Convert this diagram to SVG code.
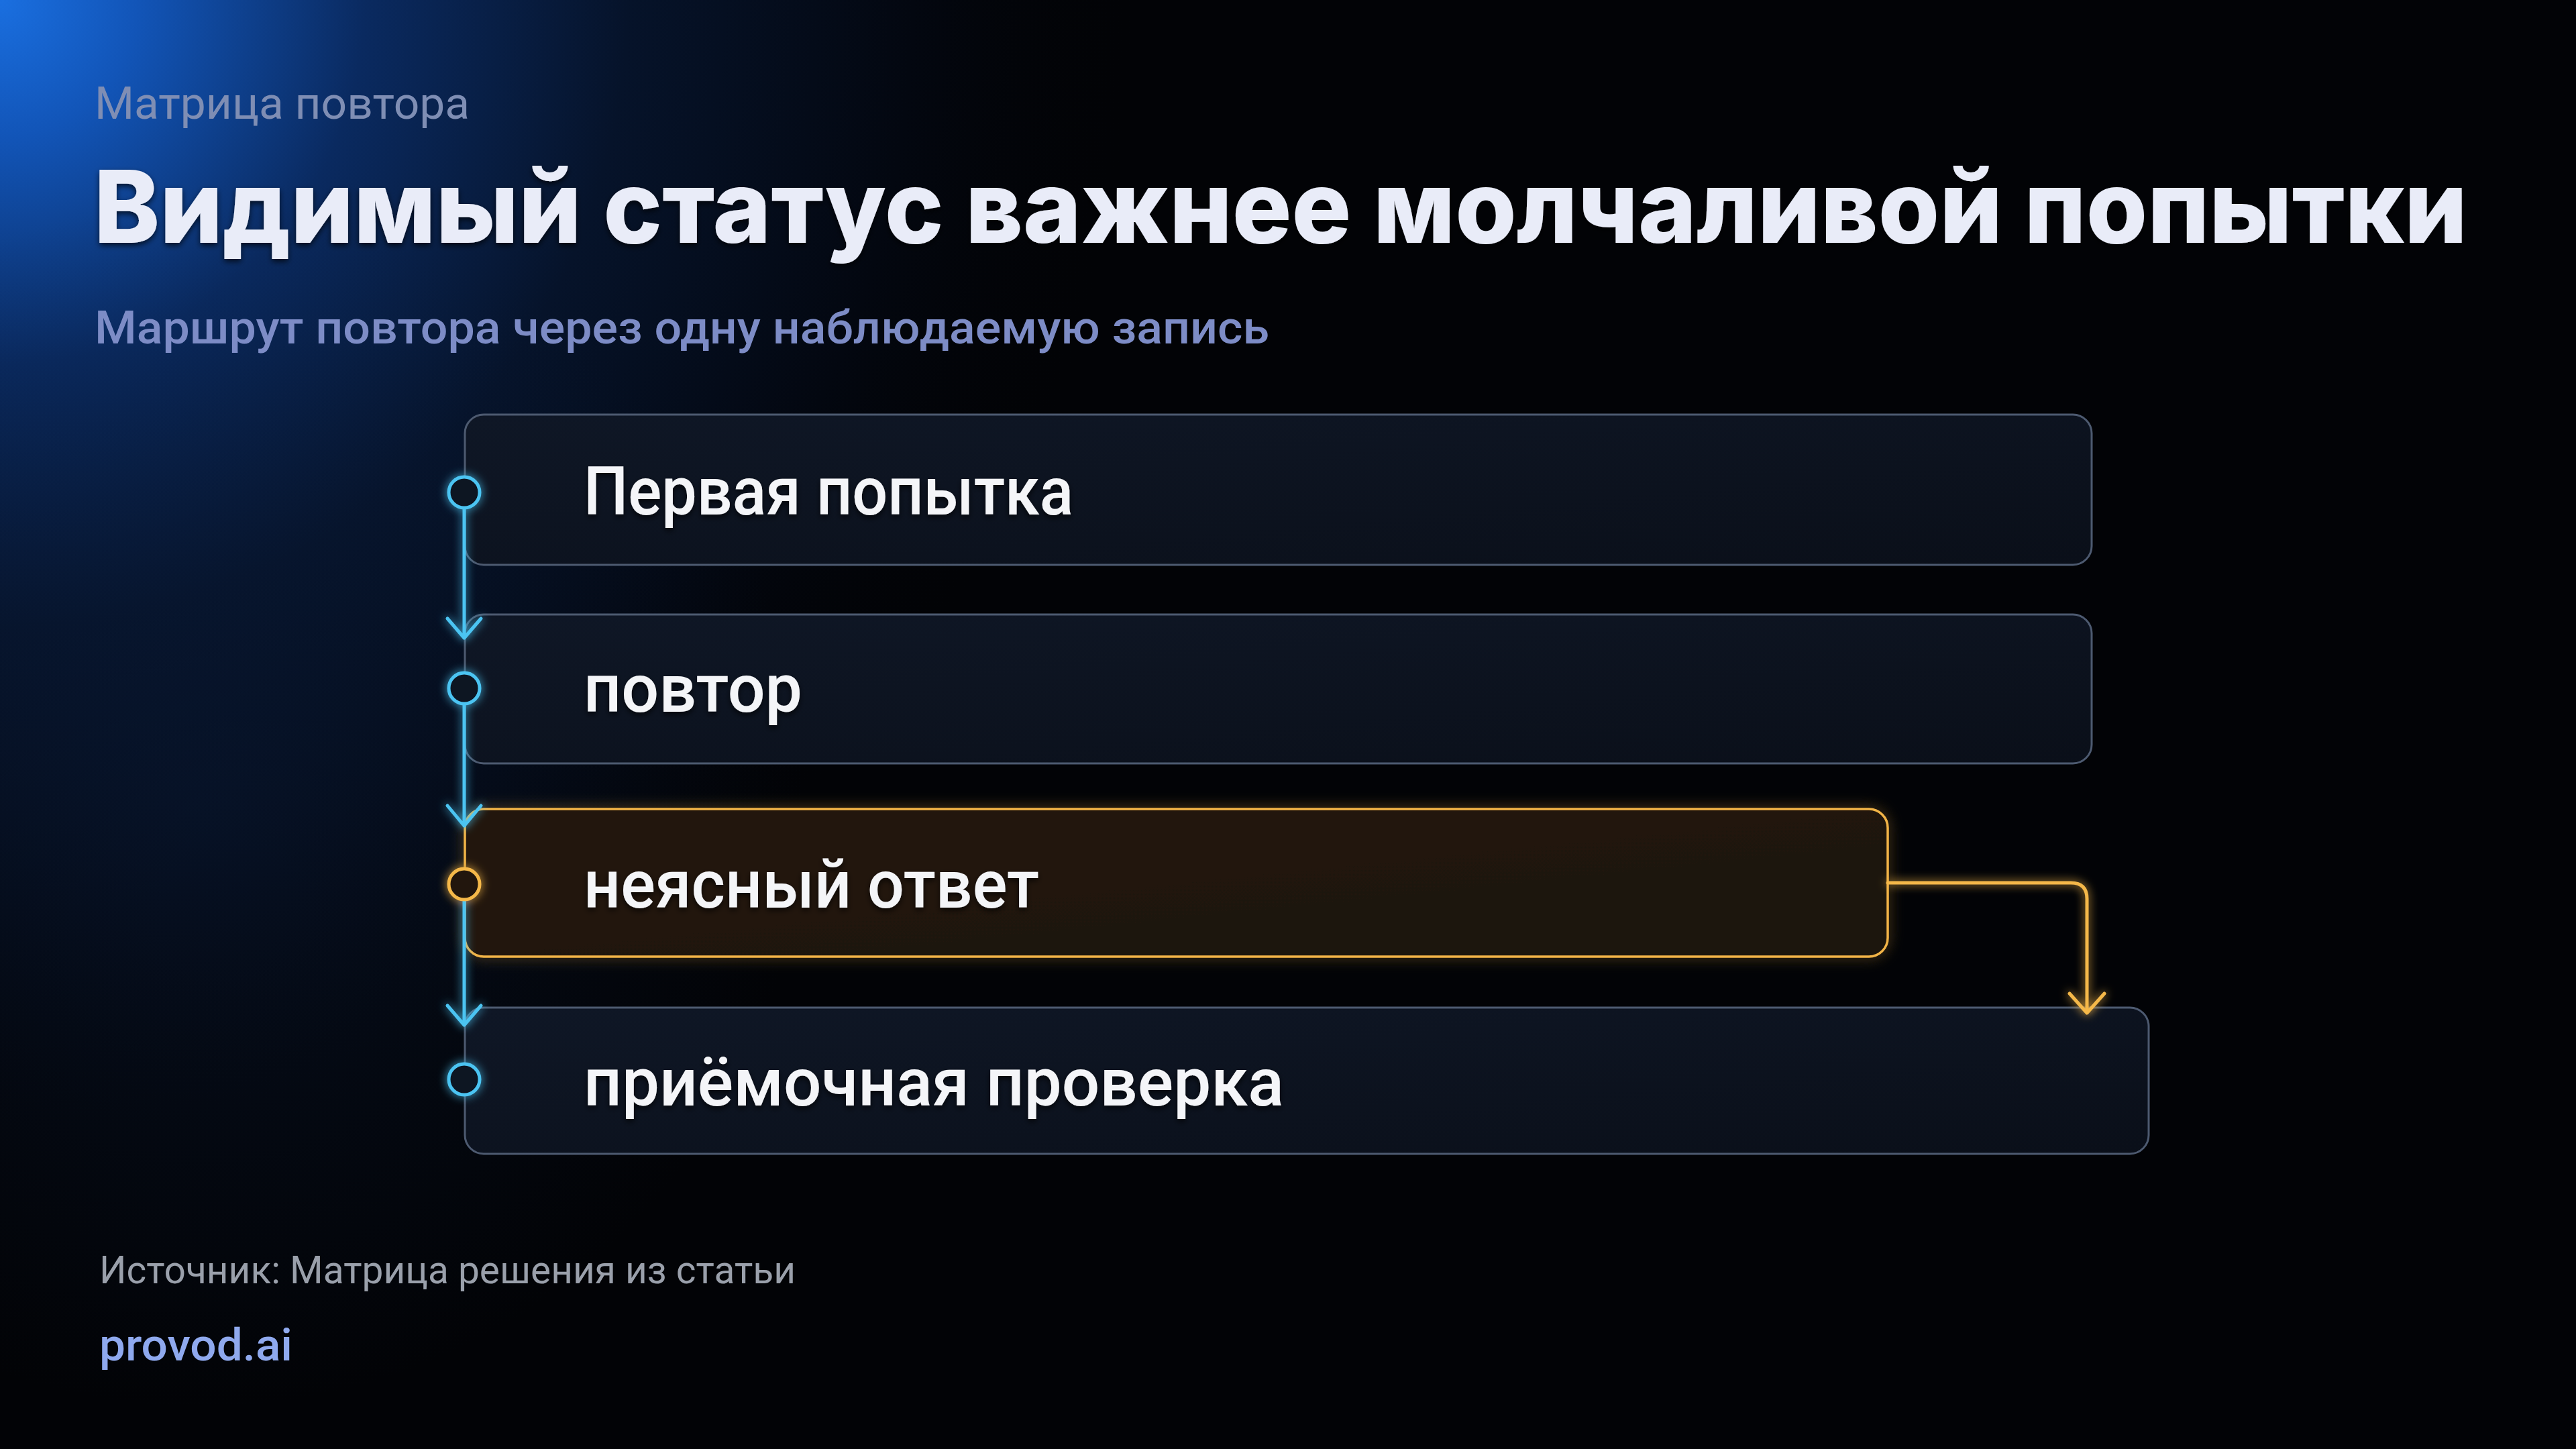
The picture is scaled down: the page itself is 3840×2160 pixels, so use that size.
<svg xmlns="http://www.w3.org/2000/svg" width="3840" height="2160" viewBox="0 0 3840 2160">
<defs>
<radialGradient id="bgGlow" gradientUnits="userSpaceOnUse" cx="0" cy="0" r="1700">
<stop offset="0" stop-color="#1a6fe0"/>
<stop offset="0.12" stop-color="#1255b8"/>
<stop offset="0.32" stop-color="#0a2a60"/>
<stop offset="0.55" stop-color="#06132a"/>
<stop offset="0.8" stop-color="#030710"/>
<stop offset="1" stop-color="#020306" stop-opacity="0"/>
</radialGradient>
<radialGradient id="sideGlow" gradientUnits="userSpaceOnUse" cx="300" cy="1200" r="900">
<stop offset="0" stop-color="#0a1a36" stop-opacity="0.5"/>
<stop offset="1" stop-color="#0a1a36" stop-opacity="0"/>
</radialGradient>
<linearGradient id="boxFill" x1="0" y1="0" x2="1" y2="1">
<stop offset="0" stop-color="#0f1726"/>
<stop offset="1" stop-color="#0a0f19"/>
</linearGradient>
<linearGradient id="warnFill" x1="0" y1="0" x2="1" y2="1">
<stop offset="0" stop-color="#24190a"/>
<stop offset="1" stop-color="#1c1409"/>
</linearGradient>
<filter id="glow" x="-50%" y="-50%" width="200%" height="200%">
<feGaussianBlur in="SourceGraphic" stdDeviation="7" result="b"/>
<feMerge><feMergeNode in="b"/><feMergeNode in="SourceGraphic"/></feMerge>
</filter>
<filter id="softGlow" x="-5%" y="-20%" width="110%" height="140%">
<feGaussianBlur in="SourceGraphic" stdDeviation="10" result="b"/>
<feComponentTransfer in="b" result="b2"><feFuncA type="linear" slope="0.5"/></feComponentTransfer>
<feMerge><feMergeNode in="b2"/><feMergeNode in="SourceGraphic"/></feMerge>
</filter>
<filter id="shadow" x="-5%" y="-20%" width="110%" height="150%">
<feDropShadow dx="0" dy="4" stdDeviation="4" flood-color="#000" flood-opacity="0.7"/>
</filter>
</defs>
<style>
.box{fill:url(#boxFill);stroke:#4d5a70;stroke-width:3}
.warn{fill:url(#warnFill);stroke:#f2b447;stroke-width:3.5}
.lbl{font-family:Roboto,"Liberation Sans",sans-serif;font-weight:500;font-size:100px;fill:#f4f5f8}
.flow{fill:none;stroke:#4cc4f2;stroke-width:5;stroke-linecap:round;stroke-linejoin:round}
.flowW{fill:none;stroke:#f5b84a;stroke-width:5;stroke-linecap:round;stroke-linejoin:round}
.dot{fill:#0c1422;stroke:#4cc4f2;stroke-width:5}
.dotW{fill:#21180a;stroke:#f5b84a;stroke-width:5}
</style>
<rect width="3840" height="2160" fill="#020306"/>
<rect width="3840" height="2160" fill="url(#bgGlow)"/>
<rect width="3840" height="2160" fill="url(#sideGlow)"/>

<text x="141" y="177" font-family="Roboto,'Liberation Sans',sans-serif" font-size="66" font-weight="400" fill="#7f8eb4" textLength="559" lengthAdjust="spacingAndGlyphs">Матрица повтора</text>
<text x="140" y="362" font-family="Inter,'Liberation Sans',sans-serif" font-size="150" font-weight="800" fill="#e9ecf8" filter="url(#shadow)" textLength="3538" lengthAdjust="spacingAndGlyphs">Видимый статус важнее молчаливой попытки</text>
<text x="141" y="512" font-family="Roboto,'Liberation Sans',sans-serif" font-size="69" font-weight="500" fill="#7d8cc6" textLength="1751" lengthAdjust="spacingAndGlyphs">Маршрут повтора через одну наблюдаемую запись</text>

<g id="node-first">
<rect class="box" x="693" y="618" width="2425" height="224" rx="28"/>
<text class="lbl" x="870" y="767" filter="url(#shadow)" textLength="730" lengthAdjust="spacingAndGlyphs">Первая попытка</text>
</g>
<g id="node-retry">
<rect class="box" x="693" y="916" width="2425" height="222" rx="28"/>
<text class="lbl" x="870" y="1061" filter="url(#shadow)" textLength="326" lengthAdjust="spacingAndGlyphs">повтор</text>
</g>
<g id="node-unclear">
<rect class="warn" x="693" y="1206" width="2121" height="220" rx="28" filter="url(#softGlow)"/>
<text class="lbl" x="870" y="1353" filter="url(#shadow)" textLength="679" lengthAdjust="spacingAndGlyphs">неясный ответ</text>
</g>
<g id="node-accept">
<rect class="box" x="693" y="1502" width="2510" height="218" rx="28"/>
<text class="lbl" x="870" y="1648" filter="url(#shadow)" textLength="1044" lengthAdjust="spacingAndGlyphs">приёмочная проверка</text>
</g>

<g id="connectors">
<g filter="url(#glow)">
<path class="flow" d="M692 756 V951 M667 922 L692 951 L717 922"/>
<path class="flow" d="M692 1048 V1231 M667 1201 L692 1231 L717 1201"/>
<path class="flow" d="M692 1340 V1528 M667 1499 L692 1528 L717 1499"/>
<path class="flowW" d="M2814 1316 H3087 Q3111 1316 3111 1340 V1510 M3085 1481 L3111 1510 L3137 1481"/>
<circle class="dot" cx="692" cy="734" r="23"/>
<circle class="dot" cx="692" cy="1026" r="23"/>
<circle class="dotW" cx="692" cy="1318" r="23"/>
<circle class="dot" cx="692" cy="1609" r="23"/>
</g>
</g>

<text x="148" y="1913" font-family="Roboto,'Liberation Sans',sans-serif" font-size="57" font-weight="400" fill="#9aa0ab" textLength="1038" lengthAdjust="spacingAndGlyphs">Источник: Матрица решения из статьи</text>
<text x="148" y="2028" font-family="Roboto,'Liberation Sans',sans-serif" font-size="66" font-weight="500" fill="#8fa9ee" textLength="288" lengthAdjust="spacingAndGlyphs">provod.ai</text>
</svg>
